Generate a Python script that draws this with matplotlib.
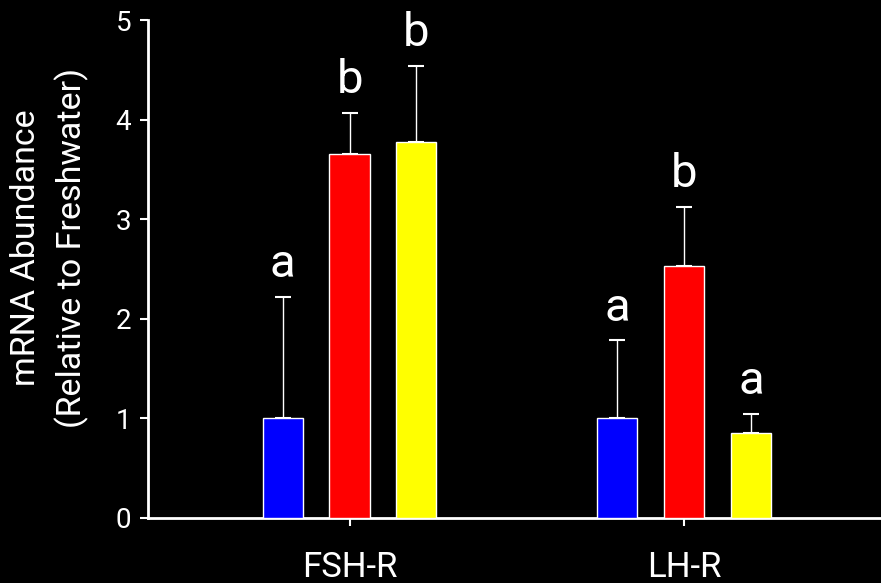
import numpy as np
import matplotlib
matplotlib.use('Agg')
import matplotlib.pyplot as plt

plt.rcParams['font.family'] = ['Roboto', 'DejaVu Sans']

# data
genes = ['FSH-R', 'LH-R']
colors = ['blue', 'red', 'yellow']
means = [[1.0, 3.65, 3.77],    # FSH-R
         [1.0, 2.53, 0.85]]    # LH-R
errs = [[1.22, 0.42, 0.77],
        [0.78, 0.59, 0.19]]
letters = [['a', 'b', 'b'],
           ['a', 'b', 'a']]

fig = plt.figure(figsize=(8.81, 5.83), dpi=100, facecolor='black')
ax = fig.add_axes([0.168, 0.1123, 0.832, 0.8533], facecolor='black')

x = np.arange(len(genes))
width = 0.12
step = 0.2
for i in range(3):
    xs = x + (i - 1) * step
    m = [means[g][i] for g in range(len(genes))]
    e = [errs[g][i] for g in range(len(genes))]
    ax.bar(xs, m, width, color=colors[i], edgecolor='white', linewidth=1, zorder=3)
    ax.errorbar(xs, m, yerr=[np.zeros(len(e)), e], fmt='none', ecolor='white',
                elinewidth=1, capsize=6, capthick=1.5, zorder=2)
    for g in range(len(genes)):
        ax.text(xs[g], m[g] + e[g] + 0.2, letters[g][i], color='white',
                fontsize=34, ha='center', va='baseline')

ax.set_xlim(-0.6024, 1.589)
ax.set_ylim(0, 5)
ax.set_xticks(x)
ax.set_xticklabels(genes, fontsize=25, color='white')
ax.set_yticks(range(6))
ax.set_yticklabels([str(v) for v in range(6)], fontsize=20, color='white')
ax.tick_params(axis='both', colors='white', length=6, width=1.5)
ax.tick_params(axis='x', pad=18)
ax.tick_params(axis='y', pad=6)
for s in ['top', 'right']:
    ax.spines[s].set_visible(False)
for s in ['left', 'bottom']:
    ax.spines[s].set_color('white')
    ax.spines[s].set_linewidth(2)
ax.set_ylabel('mRNA Abundance\n(Relative to Freshwater)', fontsize=24.5,
              color='white', linespacing=1.45)
ax.yaxis.set_label_coords(-0.081, 0.542)

fig.savefig('out.png', dpi=100, facecolor='black')
